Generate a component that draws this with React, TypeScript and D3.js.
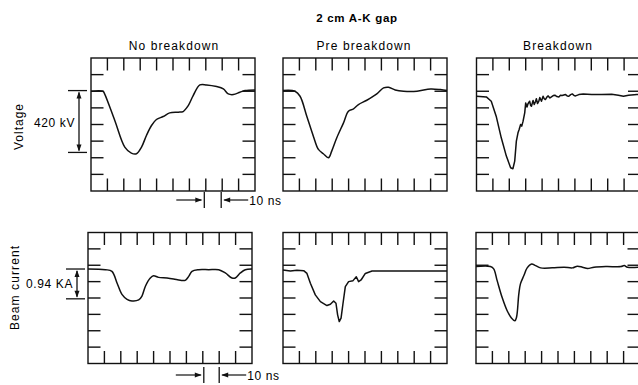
import * as d3 from 'd3';
import React from 'react';

// traces in graticule divisions: [time div (0-10), vertical div from top (0-8)]
const voltageNoBreakdown = [
  [0, 2.0], [0.73, 2.0], [0.83, 2.16], [1.45, 3.76], [2.06, 5.36], [2.46, 5.72], [2.77, 5.76],
  [3.08, 5.36], [3.38, 4.66], [3.69, 4.06], [3.99, 3.7], [4.4, 3.52], [4.8, 3.3], [5.32, 3.26],
  [5.62, 3.22], [5.93, 2.86], [6.23, 2.26], [6.64, 1.62], [7.05, 1.62], [7.66, 1.72], [8.07, 1.86],
  [8.37, 2.16], [8.68, 2.2], [9.08, 2.06], [9.39, 1.96], [10, 1.92],
];
const voltagePreBreakdown = [
  [0, 1.96], [0.73, 2.0], [1.04, 2.3], [1.45, 3.5], [1.85, 4.7], [2.16, 5.5], [2.46, 5.76],
  [2.77, 6.0], [2.97, 5.6], [3.28, 4.8], [3.69, 3.9], [3.99, 3.2], [4.3, 3.06], [4.6, 2.8],
  [5.11, 2.54], [5.72, 2.16], [6.13, 1.8], [6.44, 1.76], [6.84, 1.92], [7.35, 2.0], [8.17, 2.0],
  [9.0, 1.86], [9.6, 1.9], [10, 1.96],
];
const voltageBreakdown = [
  [0, 2.3], [0.6, 2.34], [0.9, 2.6], [1.2, 3.5], [1.51, 4.8], [1.82, 5.9], [2.08, 6.6], [2.22, 6.66],
  [2.33, 6.2], [2.43, 5.0], [2.53, 4.5], [2.6, 4.3], [2.69, 4.0], [2.76, 4.1], [2.84, 3.8],
  [2.94, 3.3], [3.0, 2.7], [3.08, 2.95], [3.14, 2.75], [3.24, 2.6], [3.3, 2.85], [3.35, 2.9],
  [3.45, 2.55], [3.52, 2.8], [3.6, 2.62], [3.65, 2.45], [3.72, 2.74], [3.8, 2.6], [3.86, 2.38],
  [3.96, 2.6], [4.06, 2.3], [4.13, 2.45], [4.2, 2.5], [4.3, 2.34], [4.37, 2.28], [4.48, 2.4],
  [4.57, 2.34], [4.68, 2.26], [4.78, 2.24], [4.9, 2.32], [5.02, 2.34], [5.12, 2.24], [5.22, 2.26],
  [5.43, 2.2], [5.53, 2.28], [5.63, 2.3], [5.74, 2.2], [5.84, 2.16], [5.95, 2.26], [6.04, 2.28],
  [6.24, 2.2], [6.51, 2.16], [7.02, 2.2], [7.63, 2.2], [8.24, 2.18], [8.65, 2.24], [8.96, 2.3],
  [9.27, 2.24], [9.78, 2.2], [10, 2.2],
];
const currentNoBreakdown = [
  [0, 2.23], [1.06, 2.27], [1.46, 2.37], [1.77, 3.08], [2.07, 3.78], [2.38, 4.08], [2.68, 4.18],
  [3.09, 4.12], [3.29, 3.88], [3.5, 3.28], [3.8, 2.78], [4.0, 2.64], [4.3, 2.74], [4.82, 2.78],
  [5.22, 2.84], [5.63, 2.92], [5.93, 2.92], [6.14, 2.68], [6.34, 2.37], [6.75, 2.27], [7.36, 2.27],
  [7.97, 2.27], [8.37, 2.47], [8.78, 2.78], [8.98, 2.78], [9.29, 2.47], [9.59, 2.27], [10, 2.23],
];
const currentPreBreakdown = [
  [0, 2.29], [0.45, 2.35], [0.85, 2.31], [1.26, 2.33], [1.46, 2.5], [1.67, 3.1], [1.97, 3.81],
  [2.28, 4.22], [2.68, 4.46], [2.89, 4.38], [3.09, 4.18], [3.23, 4.32], [3.33, 5.03], [3.43, 5.44],
  [3.54, 5.23], [3.66, 4.32], [3.8, 3.31], [4.0, 3.0], [4.27, 2.94], [4.47, 2.7], [4.61, 3.0],
  [4.76, 2.9], [5.02, 2.5], [5.43, 2.35], [6.34, 2.35], [7.97, 2.35], [10, 2.35],
];
const currentBreakdown = [
  [0, 2.08], [0.88, 2.08], [1.08, 2.22], [1.29, 2.94], [1.59, 3.96], [1.9, 4.78], [2.16, 5.22],
  [2.37, 5.39], [2.47, 5.18], [2.61, 3.76], [2.71, 3.14], [2.92, 2.63], [3.12, 2.16], [3.39, 1.92],
  [3.63, 2.02], [3.94, 2.16], [4.65, 2.16], [5.37, 2.12], [5.88, 2.16], [6.18, 2.06], [6.49, 2.12],
  [6.8, 2.2], [7.2, 2.12], [7.92, 2.08], [8.84, 2.08], [9.04, 2.02], [9.24, 2.12], [10, 2.12],
];

const columnTitles = ['No breakdown', 'Pre breakdown', 'Breakdown'];
const rowTitles = ['Voltage', 'Beam current'];
const refLabels = ['420 kV', '0.94 KA'];
const voltageRefSpan = [1.96, 5.68];
const currentRefSpan = [2.23, 4.05];
const timeMarkLabel = '10 ns';
const timeMarkSpan = [7, 8];

const FONT = '"Liberation Sans", Arial, Helvetica, sans-serif';
const DIV_X = 10;
const DIV_Y = 8;

const Panel = ({ left, top, width, height, data, smooth }) => {
  const x = d3.scaleLinear().domain([0, DIV_X]).range([left, left + width]);
  const y = d3.scaleLinear().domain([0, DIV_Y]).range([top, top + height]);
  const line = d3
    .line()
    .x((d) => x(d[0]))
    .y((d) => y(d[1]))
    .curve(smooth ? d3.curveCatmullRom.alpha(0.5) : d3.curveLinear);
  const tl = 12.5;
  return (
    <g>
      {d3.range(1, DIV_X).map((i) => (
        <g key={'x' + i}>
          <line x1={x(i)} x2={x(i)} y1={top} y2={top + tl} stroke="#111" strokeWidth={1.4} />
          <line x1={x(i)} x2={x(i)} y1={top + height - tl} y2={top + height} stroke="#111" strokeWidth={1.4} />
        </g>
      ))}
      {d3.range(1, DIV_Y).map((j) => (
        <g key={'y' + j}>
          <line x1={left} x2={left + tl} y1={y(j)} y2={y(j)} stroke="#111" strokeWidth={1.4} />
          <line x1={left + width - tl} x2={left + width} y1={y(j)} y2={y(j)} stroke="#111" strokeWidth={1.4} />
        </g>
      ))}
      <rect x={left} y={top} width={width} height={height} fill="none" stroke="#111" strokeWidth={1.4} />
      <path d={line(data)} fill="none" stroke="#111" strokeWidth={1.5} strokeLinejoin="round" />
    </g>
  );
};

// vertical double arrow with end bars, used for the amplitude references
const RefArrow = ({ xPos, y1, y2, barL, barR, label, labelY }) => (
  <g>
    <line x1={barL} x2={barR} y1={y1} y2={y1} stroke="#111" strokeWidth={1.3} />
    <line x1={barL} x2={barR} y1={y2} y2={y2} stroke="#111" strokeWidth={1.3} />
    <line x1={xPos} x2={xPos} y1={y1 + 2} y2={y2 - 2} stroke="#111" strokeWidth={1.3} />
    <path d={`M${xPos},${y1 + 1}L${xPos - 2.5},${y1 + 8}L${xPos + 2.5},${y1 + 8}Z`} fill="#111" />
    <path d={`M${xPos},${y2 - 1}L${xPos - 2.5},${y2 - 8}L${xPos + 2.5},${y2 - 8}Z`} fill="#111" />
    <text x={xPos - 4} y={labelY} textAnchor="end" fontFamily={FONT} fontSize={12} letterSpacing={0.6}>
      {label}
    </text>
  </g>
);

// horizontal "-> | |<- 10 ns" time scale marker
const TimeMark = ({ xa, xb, yc, label }) => (
  <g>
    <line x1={xa - 28} x2={xa - 3} y1={yc} y2={yc} stroke="#111" strokeWidth={1.2} />
    <path d={`M${xa - 2},${yc}L${xa - 9},${yc - 2.5}L${xa - 9},${yc + 2.5}Z`} fill="#111" />
    <line x1={xa} x2={xa} y1={yc - 8} y2={yc + 8} stroke="#111" strokeWidth={1.3} />
    <line x1={xb} x2={xb} y1={yc - 8} y2={yc + 8} stroke="#111" strokeWidth={1.3} />
    <path d={`M${xb + 2},${yc}L${xb + 9},${yc - 2.5}L${xb + 9},${yc + 2.5}Z`} fill="#111" />
    <line x1={xb + 3} x2={xb + 27} y1={yc} y2={yc} stroke="#111" strokeWidth={1.2} />
    <text x={xb + 28} y={yc + 5} fontFamily={FONT} fontSize={12} letterSpacing={0.6}>
      {label}
    </text>
  </g>
);

const App = () => {
  const W = 638;
  const H = 385;
  const pw = 164;
  const top1 = 58;
  const h1 = 133;
  const top2 = 232.5;
  const h2 = 131;
  const lefts1 = [91, 283, 476.5];
  const lefts2 = [88, 283, 476];
  const row1 = [voltageNoBreakdown, voltagePreBreakdown, voltageBreakdown];
  const row2 = [currentNoBreakdown, currentPreBreakdown, currentBreakdown];

  const yV = d3.scaleLinear().domain([0, DIV_Y]).range([top1, top1 + h1]);
  const yI = d3.scaleLinear().domain([0, DIV_Y]).range([top2, top2 + h2]);
  const xV = d3.scaleLinear().domain([0, DIV_X]).range([lefts1[0], lefts1[0] + pw]);
  const xI = d3.scaleLinear().domain([0, DIV_X]).range([lefts2[0], lefts2[0] + pw]);

  return (
    <svg width={W} height={H} style={{ position: 'absolute', left: 0, top: 0, background: '#fff' }}>
      <rect width={W} height={H} fill="#fff" />
      <text x={357} y={21.5} textAnchor="middle" fontFamily={FONT} fontSize={11.5} fontWeight="bold" letterSpacing={0.7}>
        2 cm A-K gap
      </text>
      {columnTitles.map((t, i) => (
        <text
          key={t}
          x={[174, 364, 558][i]}
          y={50}
          textAnchor="middle"
          fontFamily={FONT}
          fontSize={12}
          letterSpacing={1.1}
        >
          {t}
        </text>
      ))}
      <text
        transform={`translate(23,${126.5}) rotate(-90)`}
        textAnchor="middle"
        fontFamily={FONT}
        fontSize={12}
        letterSpacing={1}
      >
        {rowTitles[0]}
      </text>
      <text
        transform={`translate(19,${287.5}) rotate(-90)`}
        textAnchor="middle"
        fontFamily={FONT}
        fontSize={12}
        letterSpacing={1.1}
      >
        {rowTitles[1]}
      </text>

      {row1.map((d, i) => (
        <Panel key={'v' + i} left={lefts1[i]} top={top1} width={pw} height={h1} data={d} smooth={i !== 2} />
      ))}
      {row2.map((d, i) => (
        <Panel key={'c' + i} left={lefts2[i]} top={top2} width={pw} height={h2} data={d} smooth={i !== 1} />
      ))}

      <RefArrow
        xPos={79}
        y1={yV(voltageRefSpan[0])}
        y2={yV(voltageRefSpan[1])}
        barL={68}
        barR={87}
        label={refLabels[0]}
        labelY={127}
      />
      <RefArrow
        xPos={77}
        y1={yI(currentRefSpan[0])}
        y2={yI(currentRefSpan[1])}
        barL={66}
        barR={85}
        label={refLabels[1]}
        labelY={288}
      />

      <TimeMark xa={xV(timeMarkSpan[0]) - 1.5} xb={xV(timeMarkSpan[1]) - 1} yc={200} label={timeMarkLabel} />
      <TimeMark xa={xI(timeMarkSpan[0]) + 1} xb={xI(timeMarkSpan[1]) + 0} yc={375} label={timeMarkLabel} />
    </svg>
  );
};

export default App;
